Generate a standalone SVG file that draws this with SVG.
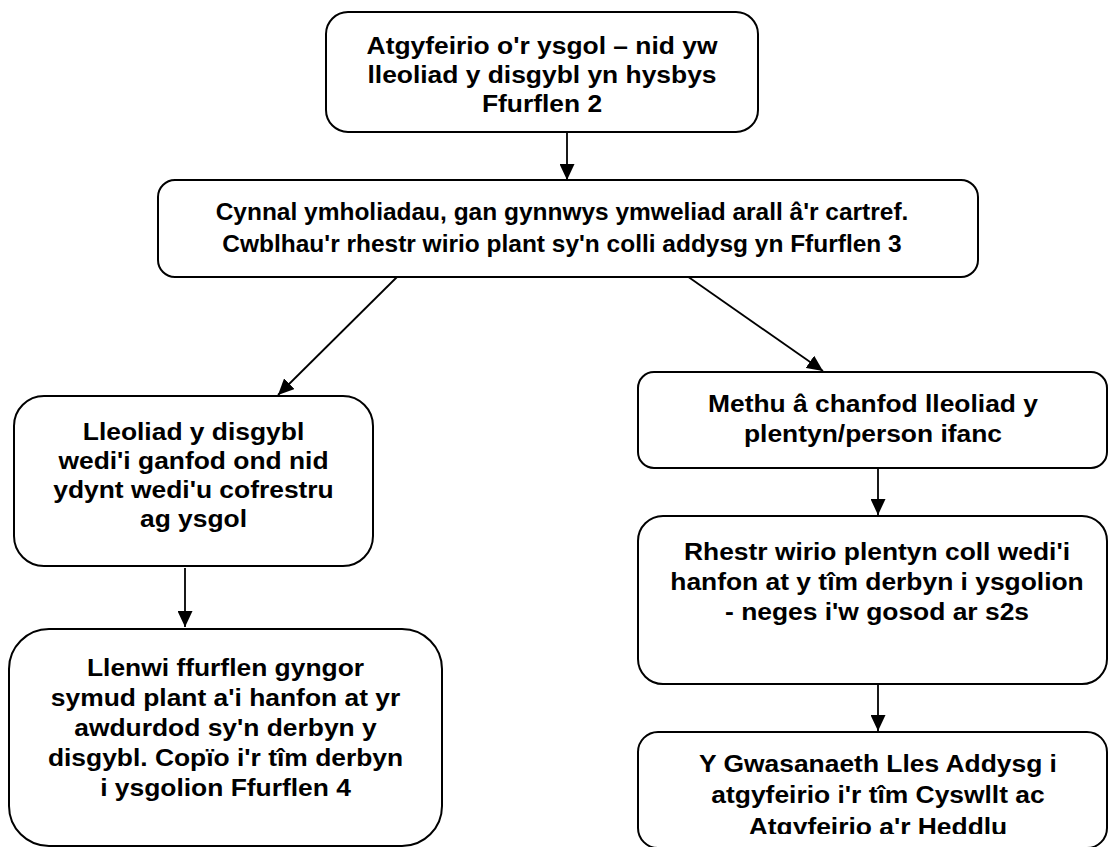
<svg xmlns="http://www.w3.org/2000/svg" width="1108" height="847" viewBox="0 0 1108 847">
  <style>
    .box { fill: #ffffff; stroke: #000000; stroke-width: 2; }
    .lbl { font-family: "Liberation Sans", Arial, sans-serif; font-weight: bold; font-size: 24px; fill: #000000; text-anchor: middle; }
    .conn { stroke: #000000; stroke-width: 1.8; fill: none; marker-end: url(#arrow); }
  </style>
  <defs>
    <marker id="arrow" viewBox="0 0 16 15" refX="16" refY="7.5" markerWidth="16" markerHeight="15" markerUnits="userSpaceOnUse" orient="auto">
      <path d="M0,0 L16,7.5 L0,15 z" fill="#000000"/>
    </marker>
    <clipPath id="clipR3" clipPathUnits="userSpaceOnUse">
      <rect x="630" y="730" width="478" height="104"/>
    </clipPath>
  </defs>
  <rect x="0" y="0" width="1108" height="847" fill="#ffffff"/>

  <g id="connectors">
    <line class="conn" x1="567" y1="132" x2="567" y2="180"/>
    <line class="conn" x1="398" y1="276" x2="278" y2="395"/>
    <line class="conn" x1="687" y1="276" x2="823" y2="371"/>
    <line class="conn" x1="185" y1="568" x2="185" y2="627"/>
    <line class="conn" x1="878" y1="468" x2="878" y2="515"/>
    <line class="conn" x1="878" y1="684" x2="878" y2="731"/>
  </g>

  <g id="node-top">
    <rect class="box" x="326" y="12" width="432" height="120" rx="22" ry="22"/>
    <g transform="translate(542,0) scale(1.1,1)">
      <text class="lbl"><tspan x="0" y="54">Atgyfeirio o'r ysgol – nid yw</tspan><tspan x="0" y="83">lleoliad y disgybl yn hysbys</tspan><tspan x="0" y="112">Ffurflen 2</tspan></text>
    </g>
  </g>

  <g id="node-enquiries">
    <rect class="box" x="158" y="180" width="820" height="97" rx="17" ry="17"/>
    <g transform="translate(562,0) scale(1.02,1)">
      <text class="lbl"><tspan x="0" y="220">Cynnal ymholiadau, gan gynnwys ymweliad arall â'r cartref.</tspan><tspan x="0" y="252">Cwblhau'r rhestr wirio plant sy'n colli addysg yn Ffurflen 3</tspan></text>
    </g>
  </g>

  <g id="node-found">
    <rect class="box" x="14" y="396" width="359" height="170" rx="30" ry="30"/>
    <g transform="translate(193.5,0) scale(1.1,1)">
      <text class="lbl"><tspan x="0" y="440">Lleoliad y disgybl</tspan><tspan x="0" y="469">wedi'i ganfod ond nid</tspan><tspan x="0" y="498">ydynt wedi'u cofrestru</tspan><tspan x="0" y="527">ag ysgol</tspan></text>
    </g>
  </g>

  <g id="node-form4">
    <rect class="box" x="9" y="629" width="433" height="217" rx="40" ry="40"/>
    <g transform="translate(225.5,0) scale(1.1,1)">
      <text class="lbl"><tspan x="0" y="676">Llenwi ffurflen gyngor</tspan><tspan x="0" y="706">symud plant a'i hanfon at yr</tspan><tspan x="0" y="736">awdurdod sy'n derbyn y</tspan><tspan x="0" y="766">disgybl. Copïo i'r tîm derbyn</tspan><tspan x="0" y="796">i ysgolion Ffurflen 4</tspan></text>
    </g>
  </g>

  <g id="node-notfound">
    <rect class="box" x="638" y="372" width="469" height="96" rx="16" ry="16"/>
    <g transform="translate(873,0) scale(1.1,1)">
      <text class="lbl"><tspan x="0" y="412">Methu â chanfod lleoliad y</tspan><tspan x="0" y="442">plentyn/person ifanc</tspan></text>
    </g>
  </g>

  <g id="node-checklist">
    <rect class="box" x="638" y="516" width="469" height="168" rx="25" ry="25"/>
    <g transform="translate(877,0) scale(1.1,1)">
      <text class="lbl"><tspan x="0" y="560">Rhestr wirio plentyn coll wedi'i</tspan><tspan x="0" y="590">hanfon at y tîm derbyn i ysgolion</tspan><tspan x="0" y="620">- neges i'w gosod ar s2s</tspan></text>
    </g>
  </g>

  <g id="node-ews">
    <rect class="box" x="638" y="732" width="469" height="116" rx="20" ry="20"/>
    <g clip-path="url(#clipR3)">
      <g transform="translate(878,0) scale(1.1,1)">
        <text class="lbl"><tspan x="0" y="772">Y Gwasanaeth Lles Addysg i</tspan><tspan x="0" y="803">atgyfeirio i'r tîm Cyswllt ac</tspan><tspan x="0" y="835">Atgyfeirio a'r Heddlu</tspan></text>
      </g>
    </g>
  </g>
</svg>
